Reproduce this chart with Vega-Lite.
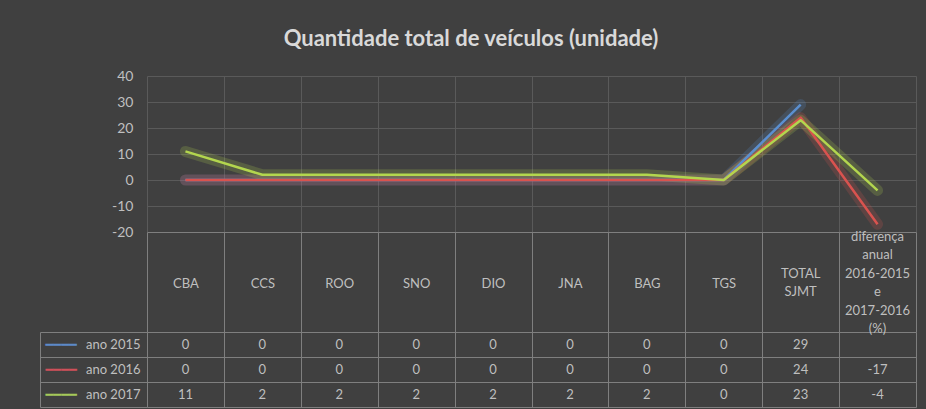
{
  "$schema": "https://vega.github.io/schema/vega-lite/v6.json",
  "background": "#404040",
  "padding": {"left": 39, "top": 28, "right": 11, "bottom": 2},
  "title": {"text": "Quantidade total de veículos (unidade)", "font": "Lato", "fontSize": 22, "fontWeight": "bold", "color": "#d9d9d9", "anchor": "middle", "offset": 18, "dx": -7},
  "datasets": {
    "d": [
      {"cat": "CBA", "series": "ano 2015", "value": 0},
      {"cat": "CCS", "series": "ano 2015", "value": 0},
      {"cat": "ROO", "series": "ano 2015", "value": 0},
      {"cat": "SNO", "series": "ano 2015", "value": 0},
      {"cat": "DIO", "series": "ano 2015", "value": 0},
      {"cat": "JNA", "series": "ano 2015", "value": 0},
      {"cat": "BAG", "series": "ano 2015", "value": 0},
      {"cat": "TGS", "series": "ano 2015", "value": 0},
      {"cat": "TOTAL SJMT", "series": "ano 2015", "value": 29},
      {"cat": "CBA", "series": "ano 2016", "value": 0},
      {"cat": "CCS", "series": "ano 2016", "value": 0},
      {"cat": "ROO", "series": "ano 2016", "value": 0},
      {"cat": "SNO", "series": "ano 2016", "value": 0},
      {"cat": "DIO", "series": "ano 2016", "value": 0},
      {"cat": "JNA", "series": "ano 2016", "value": 0},
      {"cat": "BAG", "series": "ano 2016", "value": 0},
      {"cat": "TGS", "series": "ano 2016", "value": 0},
      {"cat": "TOTAL SJMT", "series": "ano 2016", "value": 24},
      {"cat": "diferença anual 2016-2015 e 2017-2016 (%)", "series": "ano 2016", "value": -17},
      {"cat": "CBA", "series": "ano 2017", "value": 11},
      {"cat": "CCS", "series": "ano 2017", "value": 2},
      {"cat": "ROO", "series": "ano 2017", "value": 2},
      {"cat": "SNO", "series": "ano 2017", "value": 2},
      {"cat": "DIO", "series": "ano 2017", "value": 2},
      {"cat": "JNA", "series": "ano 2017", "value": 2},
      {"cat": "BAG", "series": "ano 2017", "value": 2},
      {"cat": "TGS", "series": "ano 2017", "value": 0},
      {"cat": "TOTAL SJMT", "series": "ano 2017", "value": 23},
      {"cat": "diferença anual 2016-2015 e 2017-2016 (%)", "series": "ano 2017", "value": -4}
    ]
  },
  "data": {"name": "d"},
  "spacing": 100,
  "bounds": "flush",
  "vconcat": [
    {
      "width": 769,
      "height": 156,
      "encoding": {
        "x": {"field": "cat", "type": "nominal",
          "sort": ["CBA", "CCS", "ROO", "SNO", "DIO", "JNA", "BAG", "TGS", "TOTAL SJMT", "diferença anual 2016-2015 e 2017-2016 (%)"],
          "scale": {"type": "band", "paddingInner": 0, "paddingOuter": 0},
          "axis": {"labels": false, "ticks": false, "domain": false, "title": null, "grid": true, "tickBand": "extent", "gridColor": "#5a5a5a"}},
        "y": {"field": "value", "type": "quantitative",
          "scale": {"domain": [-20, 40], "nice": false, "zero": false},
          "axis": {"values": [-20, -10, 0, 10, 20, 30, 40], "title": null, "domain": false, "ticks": false, "labelPadding": 14,
            "labelExpr": "'' + datum.value",
            "labelFont": "Lato", "labelFontSize": 14, "labelColor": "#bfbfbf",
            "gridColor": {"condition": {"test": "datum.value == -20", "value": "#7f7f7f"}, "value": "#5a5a5a"}}},
        "color": {"field": "series", "type": "nominal",
          "scale": {"domain": ["ano 2015", "ano 2016", "ano 2017"], "range": ["#5b8fd0", "#d9534f", "#b3d64e"]},
          "legend": null}
      },
      "layer": [
        {"mark": {"type": "line", "strokeWidth": 11, "opacity": 0.2, "strokeCap": "round", "strokeJoin": "round"}},
        {"mark": {"type": "line", "strokeWidth": 2.5, "strokeJoin": "round"}}
      ]
    },
    {
      "width": 769,
      "height": 75,
      "layer": [
        {
          "mark": {"type": "text", "font": "Lato", "fontSize": 13, "color": "#bfbfbf"},
          "encoding": {
            "x": {"field": "cat", "type": "nominal",
              "sort": ["CBA", "CCS", "ROO", "SNO", "DIO", "JNA", "BAG", "TGS", "TOTAL SJMT", "diferença anual 2016-2015 e 2017-2016 (%)"],
              "scale": {"type": "band", "paddingInner": 0, "paddingOuter": 0},
              "axis": {"orient": "top", "title": null, "domain": true, "domainColor": "#7f7f7f", "ticks": true, "tickBand": "extent", "tickSize": 100, "tickColor": "#7f7f7f",
                "grid": true, "gridColor": "#7f7f7f",
                "labelExpr": "(datum.label == 'TOTAL SJMT' || indexof(datum.label, 'diferença') == 0) ? '' : datum.label",
                "labelAngle": 0, "labelPadding": -51, "labelBaseline": "middle", "labelAlign": "center",
                "labelFont": "Lato", "labelFontSize": 13, "labelColor": "#bfbfbf", "labelOverlap": false, "labelFlush": false, "labelBound": false}},
            "y": {"field": "series", "type": "nominal", "sort": ["ano 2015", "ano 2016", "ano 2017"],
              "scale": {"type": "band", "paddingInner": 0, "paddingOuter": 0},
              "axis": {"orient": "left", "title": null, "domain": true, "domainColor": "#7f7f7f", "ticks": true, "tickBand": "extent", "tickSize": 107, "tickColor": "#7f7f7f",
                "grid": true, "gridColor": "#7f7f7f", "labelPadding": -100, "labelAlign": "right", "labelBaseline": "middle",
                "labelFont": "Lato", "labelFontSize": 13, "labelColor": "#bfbfbf"}},
            "text": {"field": "value", "type": "nominal"}
          }
        },
        {
          "mark": {"type": "text", "text": ""},
          "encoding": {
            "x": {"field": "cat", "type": "nominal",
              "sort": ["CBA", "CCS", "ROO", "SNO", "DIO", "JNA", "BAG", "TGS", "TOTAL SJMT", "diferença anual 2016-2015 e 2017-2016 (%)"],
              "axis": {"orient": "top", "title": null, "domain": false, "ticks": false, "grid": false,
                "labelExpr": "datum.label == 'TOTAL SJMT' ? split(datum.label, ' ') : ''",
                "labelAngle": 0, "labelPadding": 59, "labelBaseline": "middle", "labelAlign": "center", "labelLineHeight": 18.5,
                "labelFont": "Lato", "labelFontSize": 13, "labelColor": "#bfbfbf", "labelOverlap": false, "labelFlush": false, "labelBound": false}},
            "y": {"field": "series", "type": "nominal", "sort": ["ano 2015", "ano 2016", "ano 2017"],
              "axis": {"orient": "left", "title": null, "offset": 107, "domain": true, "domainColor": "#7f7f7f", "ticks": false, "grid": false,
                "labelExpr": "'━━━━'", "labelAlign": "left", "labelPadding": -5, "labelBaseline": "middle",
                "labelFont": "DejaVu Sans", "labelFontSize": 13,
                "labelColor": {"condition": [{"test": "datum.value == 'ano 2015'", "value": "#5d8ac8"}, {"test": "datum.value == 'ano 2016'", "value": "#d0505a"}], "value": "#a6c85a"}}}
          }
        },
        {
          "mark": {"type": "text", "text": ""},
          "encoding": {
            "x": {"field": "cat", "type": "nominal",
              "sort": ["CBA", "CCS", "ROO", "SNO", "DIO", "JNA", "BAG", "TGS", "TOTAL SJMT", "diferença anual 2016-2015 e 2017-2016 (%)"],
              "axis": {"orient": "top", "title": null, "domain": false, "ticks": false, "grid": false,
                "labelExpr": "indexof(datum.label, 'diferença') == 0 ? split(datum.label, ' ') : ''",
                "labelAngle": 0, "labelPadding": 96, "labelBaseline": "middle", "labelAlign": "center", "labelLineHeight": 18.5,
                "labelFont": "Lato", "labelFontSize": 13, "labelColor": "#bfbfbf", "labelOverlap": false, "labelFlush": false, "labelBound": false}}
          }
        }
      ],
      "resolve": {"axis": {"x": "independent", "y": "independent"}}
    }
  ],
  "config": {"view": {"stroke": null}}
}
